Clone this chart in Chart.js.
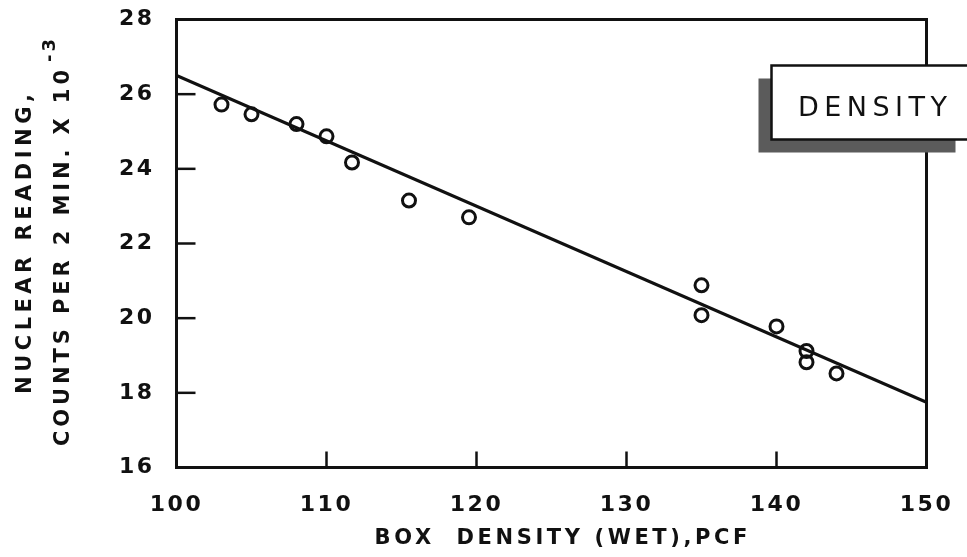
<!DOCTYPE html>
<html><head><meta charset="utf-8">
<script src="https://cdn.jsdelivr.net/npm/chart.js@4.4.1/dist/chart.umd.min.js"></script>
<style>html,body{margin:0;padding:0;background:#fff}#wrap{width:967px;height:557px}</style>
</head><body><div id="wrap"><canvas id="c" width="967" height="557"></canvas></div>
<script>
// ---- data ----
const boxDensity     = [103, 105, 108, 110, 111.7, 115.5, 119.5, 135, 135, 140, 142, 142, 144];
const nuclearReading = [25.72, 25.46, 25.2, 24.87, 24.17, 23.15, 22.7, 20.88, 20.08, 19.78, 19.12, 18.82, 18.52];
const fitDensity = [100, 150];
const fitReading = [26.5, 17.75];
const xTickValues = [100, 110, 120, 130, 140, 150];
const yTickValues = [16, 18, 20, 22, 24, 26, 28];
const xTitle = 'BOX  DENSITY (WET),PCF';
const yTitleLine1 = 'NUCLEAR READING,';
const yTitleLine2 = 'COUNTS PER 2 MIN. X 10';
const yTitleExp = '-3';
const boxLabel = 'DENSITY';

const INK = '#111';
const FONT = '"DejaVu Sans", sans-serif';

function spacedText(ctx, text, x, y, spacing, align) {
  ctx.letterSpacing = spacing + 'px';
  const w = ctx.measureText(text).width - spacing;
  let sx = x;
  if (align === 'center') sx = x - w / 2;
  else if (align === 'right') sx = x - w;
  ctx.textAlign = 'left';
  ctx.fillText(text, sx, y);
  return sx + w;
}

const decor = {
  id: 'decor',
  beforeDraw(chart) { chart.ctx.letterSpacing = '2.5px'; },
  afterDraw(chart) {
    const { ctx, chartArea: a, scales: { x, y } } = chart;
    ctx.save();
    ctx.strokeStyle = INK; ctx.fillStyle = INK;
    // frame
    ctx.lineWidth = 3;
    ctx.strokeRect(a.left, a.top, a.right - a.left, a.bottom - a.top);
    // inner ticks
    ctx.lineWidth = 2.5;
    yTickValues.forEach(v => {
      if (v === y.min || v === y.max) return;
      const py = y.getPixelForValue(v);
      ctx.beginPath(); ctx.moveTo(a.left, py); ctx.lineTo(a.left + 19, py); ctx.stroke();
    });
    xTickValues.forEach(v => {
      if (v === x.min || v === x.max) return;
      const px = x.getPixelForValue(v);
      ctx.beginPath(); ctx.moveTo(px, a.bottom); ctx.lineTo(px, a.bottom - 16); ctx.stroke();
    });
    // label box with shadow
    const bx = a.right - 155, by = a.top + 46, bw = 210, bh = 74;
    ctx.fillStyle = '#5b5b5b';
    ctx.fillRect(bx - 13, by + 13, bw - 13, bh);
    ctx.fillStyle = '#fff';
    ctx.fillRect(bx, by, bw, bh);
    ctx.lineWidth = 2.5; ctx.strokeStyle = INK;
    ctx.strokeRect(bx, by, bw, bh);
    ctx.fillStyle = INK;
    ctx.font = '27px ' + FONT;
    ctx.textBaseline = 'middle';
    spacedText(ctx, boxLabel, bx + 101, by + 43, 5.5, 'center');
    // x title
    ctx.font = 'bold 21px ' + FONT;
    ctx.textBaseline = 'middle';
    spacedText(ctx, xTitle, 561, 539, 3.6, 'center');
    // y title line 1
    ctx.save();
    ctx.translate(26, 0); ctx.rotate(-Math.PI / 2);
    spacedText(ctx, yTitleLine1, -244, 0, 4.5, 'center');
    ctx.restore();
    // y title line 2 + exponent
    ctx.save();
    ctx.translate(64, 0); ctx.rotate(-Math.PI / 2);
    const end = spacedText(ctx, yTitleLine2, -446, 0, 3.9, 'left');
    ctx.font = 'bold 18px ' + FONT;
    spacedText(ctx, yTitleExp, end + 8, -14, 3, 'left');
    ctx.restore();
    ctx.restore();
  }
};

new Chart(document.getElementById('c'), {
  type: 'scatter',
  data: {
    datasets: [
      {
        label: 'fit',
        data: fitDensity.map((v, i) => ({ x: v, y: fitReading[i] })),
        showLine: true, borderColor: INK, borderWidth: 3.2, pointRadius: 0, fill: false
      },
      {
        label: 'readings',
        data: boxDensity.map((v, i) => ({ x: v, y: nuclearReading[i] })),
        showLine: false, pointStyle: 'circle', pointRadius: 6.5, pointBorderWidth: 3,
        pointBorderColor: INK, pointBackgroundColor: 'rgba(0,0,0,0)'
      }
    ]
  },
  options: {
    responsive: false, animation: false, devicePixelRatio: 1,
    layout: { padding: { top: 19.5, right: 40.5, left: 0, bottom: 0 } },
    plugins: { legend: { display: false }, tooltip: { enabled: false } },
    scales: {
      x: {
        type: 'linear', min: 100, max: 150,
        afterBuildTicks: s => { s.ticks = xTickValues.map(v => ({ value: v })); },
        afterFit: s => { s.height = 89.5; s.paddingLeft = 0; s.paddingRight = 0; },
        grid: { display: false }, border: { display: false },
        ticks: { color: INK, padding: 17, font: { family: FONT, size: 22, weight: 'bold' }, maxRotation: 0 }
      },
      y: {
        type: 'linear', min: 16, max: 28,
        afterBuildTicks: s => { s.ticks = yTickValues.map(v => ({ value: v })); },
        afterFit: s => { s.width = 176.5; s.paddingTop = 0; s.paddingBottom = 0; },
        grid: { display: false }, border: { display: false },
        ticks: { color: INK, padding: 14, font: { family: FONT, size: 22, weight: 'bold' } }
      }
    }
  },
  plugins: [decor]
});
</script></body></html>
